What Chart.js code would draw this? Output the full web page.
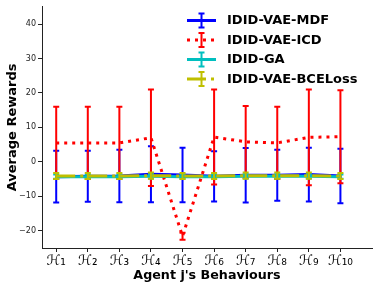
<!DOCTYPE html>
<html>
<head>
<meta charset="utf-8">
<script src="https://cdn.jsdelivr.net/npm/chart.js@4.4.0/dist/chart.umd.min.js"></script>
<style>
  body { margin: 0; background: #fff; }
  #wrap { width: 374px; height: 283px; }
</style>
</head>
<body>
<div id="wrap"><canvas id="myChart" width="374" height="283"></canvas></div>
<script>
// data
var xPos = [1, 2, 3, 4, 5, 6, 7, 8, 9, 10];
var xLabels = ['ℋ₁', 'ℋ₂', 'ℋ₃', 'ℋ₄', 'ℋ₅', 'ℋ₆', 'ℋ₇', 'ℋ₈', 'ℋ₉', 'ℋ₁₀'];
var yTicks = [-20, -10, 0, 10, 20, 30, 40];

var seriesNames = ['IDID-VAE-MDF', 'IDID-VAE-ICD', 'IDID-GA', 'IDID-VAE-BCELoss'];

var mdf = [-4.3, -4.2, -4.1, -3.6, -3.8, -4.2, -3.9, -3.9, -3.7, -4.1];
var mdfErr = [7.5, 7.4, 7.6, 8.1, 7.9, 7.3, 7.9, 7.4, 7.8, 7.9];

var icd = [5.5, 5.5, 5.5, 7.0, -21.6, 7.2, 5.8, 5.5, 7.1, 7.3];
var icdErr = [10.5, 10.5, 10.5, 14.0, 1.0, 13.8, 10.4, 10.5, 13.9, 13.5];

var ga = [-4.3, -4.3, -4.3, -4.2, -4.3, -4.3, -4.2, -4.2, -4.2, -4.3];
var gaErr = [0.6, 0.6, 0.6, 0.6, 0.6, 0.6, 0.6, 0.6, 0.6, 0.6];

var bce = [-4.1, -4.1, -4.1, -4.0, -4.1, -4.1, -4.0, -4.0, -4.0, -4.1];
var bceErr = [0.9, 0.9, 0.9, 0.9, 0.9, 0.9, 0.9, 0.9, 0.9, 0.9];

var colors = ['#0000ff', '#ff0000', '#00bfbf', '#bfbf00'];
var dashes = [[], [3, 5], [], [19, 5, 3, 5]];

function pts(arr) {
	return xPos.map(function(x, i) { return { x: x, y: arr[i] }; });
}

var allErr = [mdfErr, icdErr, gaErr, bceErr];

// error bars drawn right after each dataset so the stacking follows matplotlib
var errorBars = {
	id: 'errorBars',
	afterDatasetDraw: function(chart, args) {
		var ds = chart.data.datasets[args.index];
		var err = allErr[args.index];
		var xs = chart.scales.x, ys = chart.scales.y;
		var ctx = chart.ctx;
		ctx.save();
		ctx.strokeStyle = ds.borderColor;
		ctx.lineWidth = 2;
		ctx.setLineDash([]);
		ds.data.forEach(function(p, i) {
			var px = xs.getPixelForValue(p.x);
			var top = ys.getPixelForValue(p.y + err[i]);
			var bot = ys.getPixelForValue(p.y - err[i]);
			ctx.beginPath();
			ctx.moveTo(px, top); ctx.lineTo(px, bot);
			ctx.moveTo(px - 3, top); ctx.lineTo(px + 3, top);
			ctx.moveTo(px - 3, bot); ctx.lineTo(px + 3, bot);
			ctx.stroke();
		});
		ctx.restore();
	}
};

// legend with errorbar handles, no frame
var legendBox = {
	id: 'legendBox',
	afterDraw: function(chart) {
		var ctx = chart.ctx;
		ctx.save();
		seriesNames.forEach(function(name, i) {
			var y = 20.5 + i * 19.5;
			ctx.strokeStyle = colors[i];
			ctx.lineWidth = 3;
			ctx.setLineDash(dashes[i]);
			ctx.beginPath();
			ctx.moveTo(187, y); ctx.lineTo(216, y);
			ctx.stroke();
			ctx.setLineDash([]);
			ctx.lineWidth = 2;
			ctx.beginPath();
			ctx.moveTo(201.5, y - 7); ctx.lineTo(201.5, y + 7);
			ctx.moveTo(198.5, y - 7); ctx.lineTo(204.5, y - 7);
			ctx.moveTo(198.5, y + 7); ctx.lineTo(204.5, y + 7);
			ctx.stroke();
			ctx.fillStyle = '#000';
			ctx.font = 'bold 13px "DejaVu Sans"';
			ctx.textBaseline = 'middle';
			ctx.fillText(name, 227, y + 0.5);
		});
		ctx.restore();
	}
};

var ctx = document.getElementById('myChart').getContext('2d');
var myChart = new Chart(ctx, {
	type: 'line',
	data: {
		datasets: [
			{ label: seriesNames[0], data: pts(mdf), borderColor: colors[0], borderWidth: 3, borderDash: dashes[0], order: 4 },
			{ label: seriesNames[1], data: pts(icd), borderColor: colors[1], borderWidth: 3, borderDash: dashes[1], order: 3 },
			{ label: seriesNames[2], data: pts(ga), borderColor: colors[2], borderWidth: 3, borderDash: dashes[2], order: 2 },
			{ label: seriesNames[3], data: pts(bce), borderColor: colors[3], borderWidth: 3, borderDash: dashes[3], order: 1 }
		]
	},
	options: {
		responsive: false,
		animation: false,
		devicePixelRatio: 1,
		elements: {
			point: { radius: 0, hoverRadius: 0 },
			line: { tension: 0, fill: false, borderCapStyle: 'butt' }
		},
		layout: { padding: { top: 3, right: 2, left: 0, bottom: 0 } },
		plugins: {
			legend: { display: false },
			tooltip: { enabled: false }
		},
		scales: {
			x: {
				type: 'linear',
				min: 0.55,
				max: 11,
				afterBuildTicks: function(scale) {
					scale.ticks = xPos.map(function(v) { return { value: v }; });
				},
				afterFit: function(scale) { scale.height = 35; },
				ticks: {
					autoSkip: false,
					maxRotation: 0,
					padding: 1,
					color: '#000',
					font: { family: 'DejaVu Sans', size: 14 },
					callback: function(v, i) { return xLabels[i]; }
				},
				grid: { drawOnChartArea: false, drawTicks: true, tickLength: 4, color: '#222' },
				border: { display: true, color: '#222', width: 1 },
				title: {
					display: true,
					text: "Agent j's Behaviours",
					color: '#000',
					padding: { top: 0, bottom: 0 },
					font: { family: 'DejaVu Sans', size: 12.7, weight: 'bold' }
				}
			},
			y: {
				min: -25,
				max: 45,
				afterBuildTicks: function(scale) {
					scale.ticks = yTicks.map(function(v) { return { value: v }; });
				},
				afterFit: function(scale) { scale.width = 42; },
				ticks: {
					padding: 2,
					color: '#222',
					font: { family: 'DejaVu Sans', size: 8 },
					callback: function(v) { return v < 0 ? '\u2212' + Math.abs(v) : '' + v; }
				},
				grid: { drawOnChartArea: false, drawTicks: true, tickLength: 4, color: '#222' },
				border: { display: true, color: '#222', width: 1 },
				title: {
					display: true,
					text: 'Average Rewards',
					color: '#000',
					padding: { top: 5, bottom: 0 },
					font: { family: 'DejaVu Sans', size: 13, weight: 'bold' }
				}
			}
		}
	},
	plugins: [errorBars, legendBox]
});
</script>
</body>
</html>
